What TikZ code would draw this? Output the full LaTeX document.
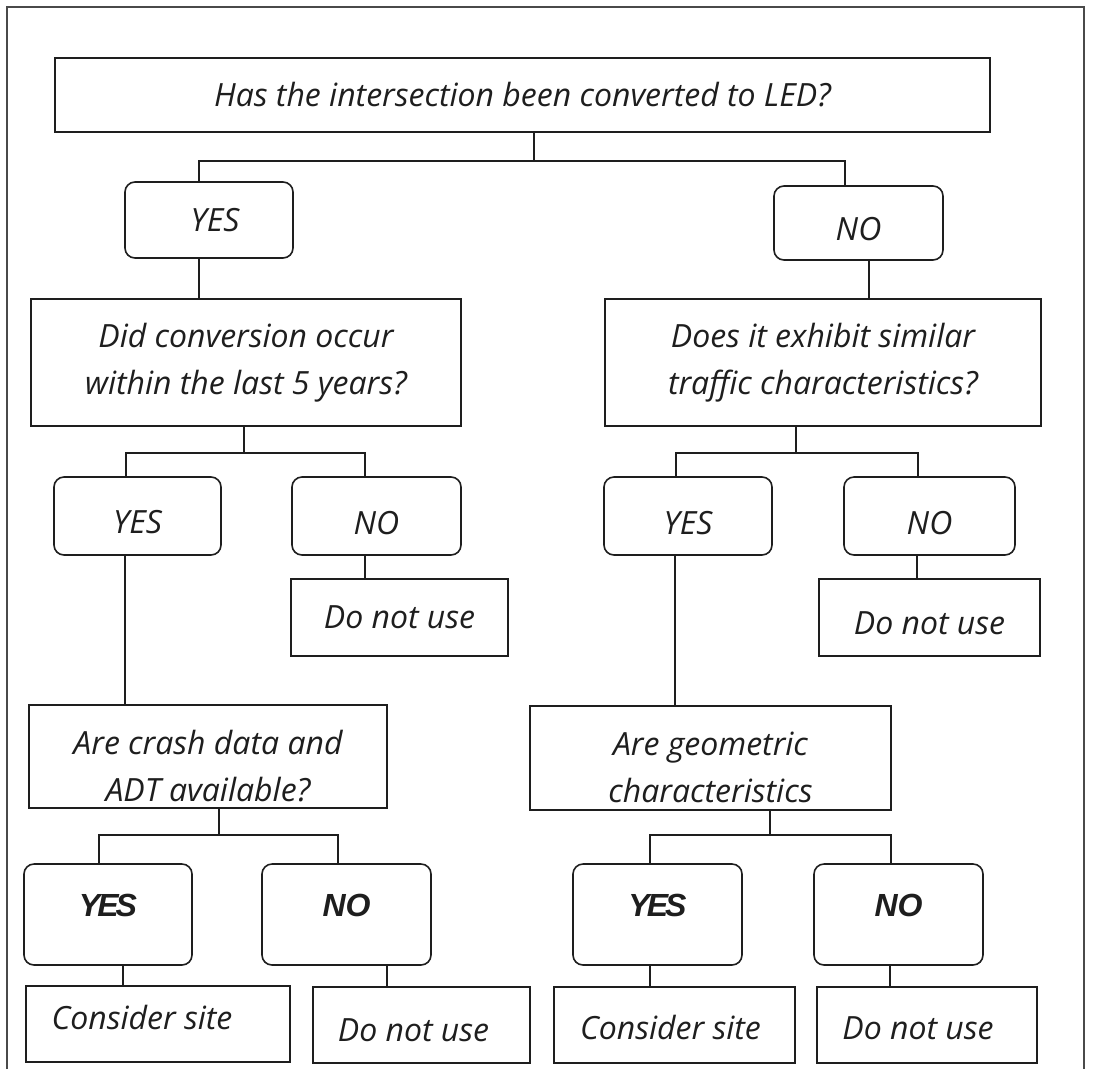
\documentclass[tikz,border=0pt]{standalone}
\usepackage{fontspec}
\newfontfamily\osfam{Open Sans}
\newfontfamily\libfam{Liberation Sans}
\newcommand\qfont{\osfam\itshape\fontsize{32}{47}\selectfont}
\newcommand\ynfont{\libfam\bfseries\itshape\fontsize{32}{36}\selectfont}
\definecolor{ink}{HTML}{1E1E1E}
\definecolor{framec}{HTML}{4A4A4A}
\tikzset{
  qbox/.style={draw=ink, line width=1.6pt, align=center, inner sep=0pt, font=\qfont, text=ink},
  rbox/.style={qbox, rounded corners=10pt},
  bbox/.style={rbox, font=\ynfont, text height=23pt, text depth=20pt},
  sz/.style 2 args={minimum width=#1pt, minimum height=#2pt},
  conn/.style={draw=ink, line width=1.6pt},
  frameline/.style={draw=framec, line width=1.6pt}
}
\begin{document}
\begin{tikzpicture}[x=1pt,y=-1pt]
\useasboundingbox (0,0) rectangle (1094,1069);
\fill[white] (0,0) rectangle (1094,1069);
% outer frame (open at bottom)
\draw[frameline] (7,1069) -- (7,7) -- (1084,7) -- (1084,1069);

% level 1
\node[qbox, sz={935}{74}] (q1) at (522.5,95) {Has the intersection been converted to LED?};
\node[rbox, sz={168}{76}] (yes1) at (209,220) {\hspace*{12pt}YES};
\node[rbox, sz={169}{74}, text height=35pt] (no1) at (858.5,223) {NO};

% level 2
\node[qbox, sz={430}{127}] (q2L) at (246,362.5) {Did conversion occur\\within the last 5 years?};
\node[qbox, sz={436}{127}] (q2R) at (823,362.5) {Does it exhibit similar\\traffic characteristics?};

\node[rbox, sz={167}{78}, text height=36pt] (yes2L) at (137.5,516) {YES};
\node[rbox, sz={169}{78}, text height=37pt] (no2L) at (376.5,516) {NO};
\node[qbox, sz={217}{77}] (dnuL) at (399.5,617.5) {Do not use};

\node[rbox, sz={168}{78}, text height=37pt] (yes2R) at (688,516) {YES};
\node[rbox, sz={171}{78}, text height=37pt] (no2R) at (929.5,516) {NO};
\node[qbox, sz={221}{77}, text height=35pt] (dnuR) at (929.5,617.5) {Do not use};

% level 3
\node[qbox, sz={358}{103}] (q3L) at (208,756.5) {\mbox{}\\[-4pt]Are crash data and\\ADT available?};
\node[qbox, sz={361}{104}] (q3R) at (710.5,758) {\mbox{}\\[-4pt]Are geometric\\characteristics};

\node[bbox, sz={168}{101}] (yes3L) at (108,914.5) {Y\kern-3pt E\kern-3pt S};
\node[bbox, sz={169}{101}] (no3L) at (346.5,914.5) {NO};
\node[qbox, sz={264}{76}, text depth=14pt] (csL) at (158,1024) {Consider site\hspace*{32pt}};
\node[qbox, sz={217}{76}, text height=34pt] (dnuBL) at (421.5,1025) {Do not use\hspace*{16pt}};

\node[bbox, sz={169}{101}] (yes3R) at (657.5,914.5) {Y\kern-3pt E\kern-3pt S};
\node[bbox, sz={169}{101}] (no3R) at (898.5,914.5) {NO};
\node[qbox, sz={241}{76}, text height=30pt] (csR) at (674.5,1025) {Consider site\hspace*{8pt}};
\node[qbox, sz={220}{76}, text height=30pt] (dnuBR) at (927,1025) {Do not use\hspace*{18pt}};

% connectors level 1
\draw[conn] ([xshift=11.5pt]q1.south) -- ++(0,28) coordinate (b1);
\draw[conn] (b1) -| ([xshift=-10pt]yes1.north);
\draw[conn] (b1) -| ([xshift=-13.5pt]no1.north);
\draw[conn] ([xshift=-10pt]yes1.south) -- ([xshift=-10pt]yes1.south |- q2L.north);
\draw[conn] ([xshift=10.5pt]no1.south) -- ([xshift=10.5pt]no1.south |- q2R.north);

% connectors left level 2
\draw[conn] ([xshift=-2pt]q2L.south) -- ++(0,26) coordinate (b2L);
\draw[conn] (b2L) -| ([xshift=-11.5pt]yes2L.north);
\draw[conn] (b2L) -| ([xshift=-11.5pt]no2L.north);
\draw[conn] ([xshift=-11.5pt]no2L.south) -- ([xshift=-11.5pt]no2L.south |- dnuL.north);
\draw[conn] ([xshift=-12.5pt]yes2L.south) -- ([xshift=-12.5pt]yes2L.south |- q3L.north);

% connectors right level 2
\draw[conn] ([xshift=-27pt]q2R.south) -- ++(0,26) coordinate (b2R);
\draw[conn] (b2R) -| ([xshift=-12pt]yes2R.north);
\draw[conn] (b2R) -| ([xshift=-11.5pt]no2R.north);
\draw[conn] ([xshift=-12.5pt]no2R.south) -- ([xshift=-12.5pt]no2R.south |- dnuR.north);
\draw[conn] ([xshift=-13pt]yes2R.south) -- ([xshift=-13pt]yes2R.south |- q3R.north);

% connectors left level 3
\draw[conn] ([xshift=11pt]q3L.south) -- ++(0,26) coordinate (b3L);
\draw[conn] (b3L) -| ([xshift=-9pt]yes3L.north);
\draw[conn] (b3L) -| ([xshift=-8.5pt]no3L.north);
\draw[conn] ([xshift=15pt]yes3L.south) -- ([xshift=15pt]yes3L.south |- csL.north);
\draw[conn] ([xshift=40.5pt]no3L.south) -- ([xshift=40.5pt]no3L.south |- dnuBL.north);

% connectors right level 3
\draw[conn] ([xshift=59.5pt]q3R.south) -- ++(0,24) coordinate (b3R);
\draw[conn] (b3R) -| ([xshift=-7.5pt]yes3R.north);
\draw[conn] (b3R) -| ([xshift=-7.5pt]no3R.north);
\draw[conn] ([xshift=-7.5pt]yes3R.south) -- ([xshift=-7.5pt]yes3R.south |- csR.north);
\draw[conn] ([xshift=-8.5pt]no3R.south) -- ([xshift=-8.5pt]no3R.south |- dnuBR.north);
\end{tikzpicture}
\end{document}
